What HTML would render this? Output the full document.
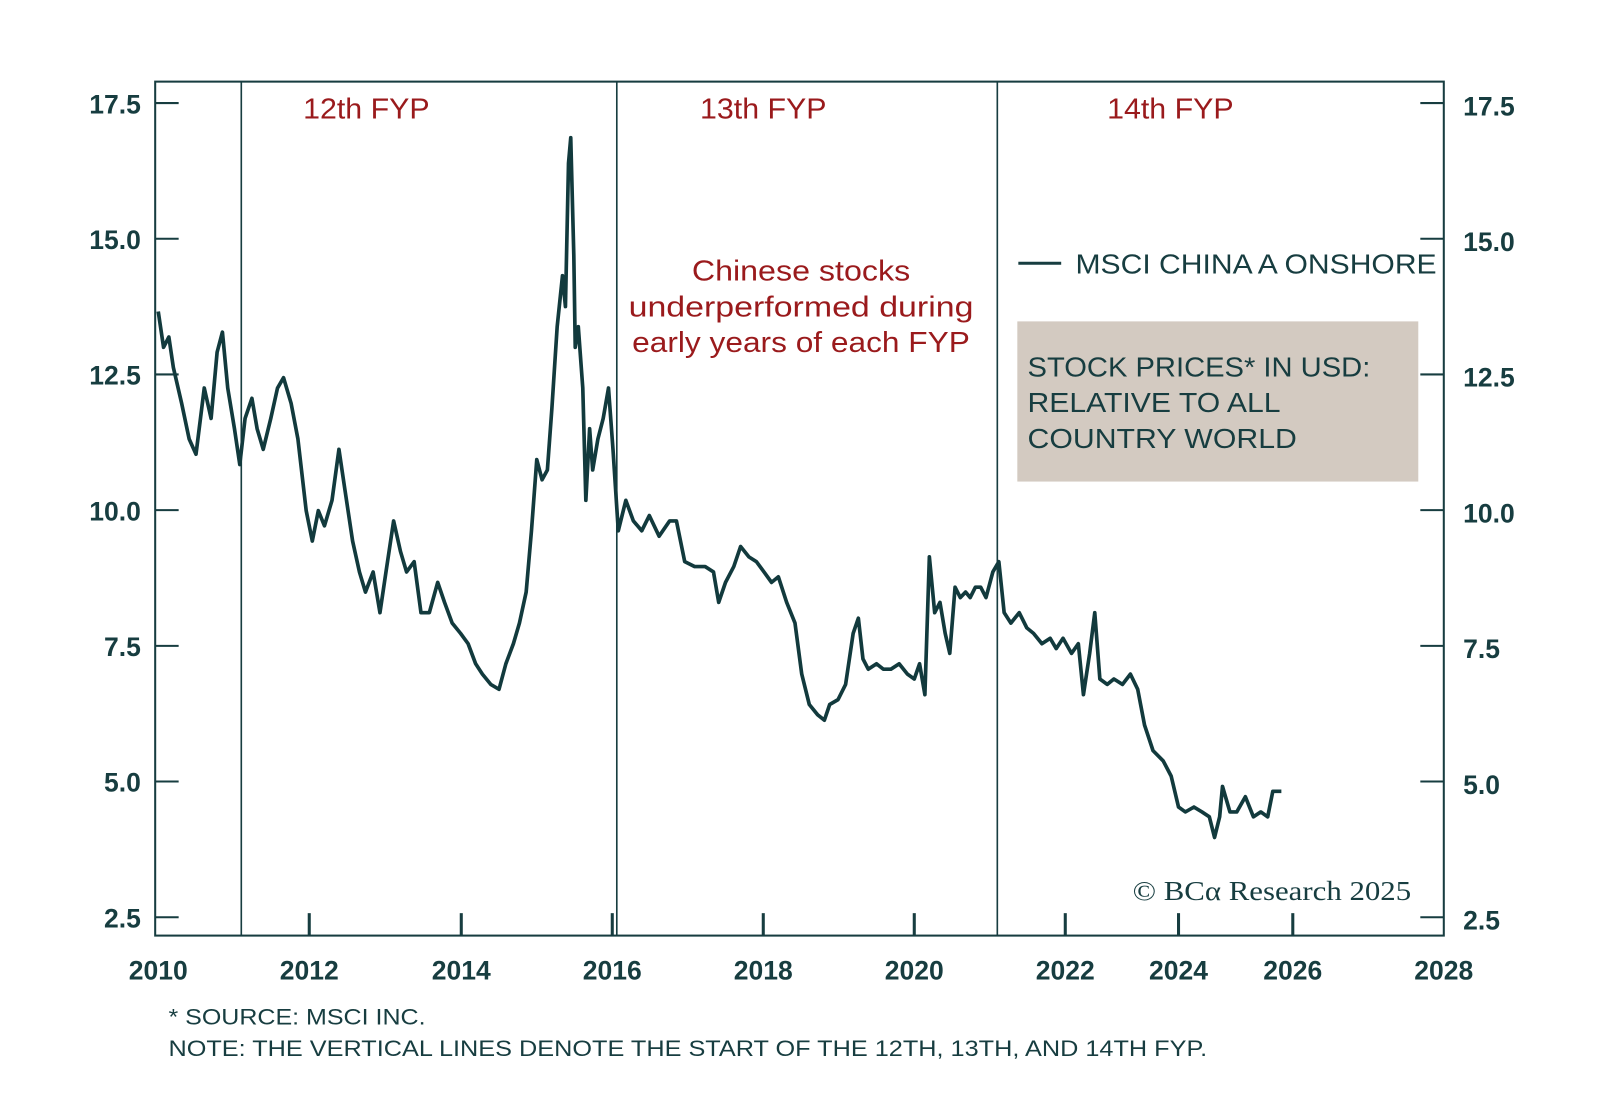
<!DOCTYPE html>
<html><head><meta charset="utf-8"><style>
html,body{margin:0;padding:0;background:#fff;}
svg{display:block;}
</style></head><body>
<svg id="chart" width="1600" height="1107" viewBox="0 0 1568 1085" xmlns="http://www.w3.org/2000/svg" font-family="'Liberation Sans', sans-serif"></svg>
<script>
const years = [2010.00,2010.07,2010.14,2010.20,2010.31,2010.41,2010.50,2010.61,2010.70,2010.78,2010.85,2010.92,2011.01,2011.08,2011.15,2011.24,2011.31,2011.39,2011.49,2011.58,2011.66,2011.76,2011.85,2011.96,2012.04,2012.12,2012.20,2012.30,2012.39,2012.47,2012.57,2012.66,2012.74,2012.84,2012.93,2013.01,2013.11,2013.20,2013.28,2013.38,2013.47,2013.58,2013.69,2013.78,2013.88,2013.99,2014.09,2014.19,2014.28,2014.39,2014.50,2014.59,2014.69,2014.77,2014.86,2014.93,2015.00,2015.07,2015.14,2015.20,2015.27,2015.34,2015.38,2015.42,2015.45,2015.49,2015.51,2015.55,2015.61,2015.65,2015.70,2015.74,2015.81,2015.88,2015.95,2016.01,2016.08,2016.18,2016.28,2016.39,2016.49,2016.62,2016.76,2016.85,2016.96,2017.09,2017.23,2017.34,2017.41,2017.50,2017.61,2017.70,2017.81,2017.91,2018.01,2018.11,2018.20,2018.31,2018.42,2018.51,2018.61,2018.72,2018.81,2018.88,2018.99,2019.09,2019.19,2019.26,2019.32,2019.39,2019.50,2019.59,2019.69,2019.80,2019.91,2020.00,2020.07,2020.14,2020.20,2020.27,2020.34,2020.41,2020.47,2020.54,2020.61,2020.68,2020.74,2020.81,2020.88,2020.95,2021.04,2021.12,2021.19,2021.28,2021.39,2021.49,2021.58,2021.69,2021.80,2021.88,2021.97,2022.11,2022.23,2022.32,2022.43,2022.52,2022.61,2022.74,2022.86,2023.01,2023.15,2023.28,2023.40,2023.55,2023.73,2023.87,2024.00,2024.12,2024.27,2024.41,2024.54,2024.63,2024.72,2024.77,2024.90,2025.02,2025.17,2025.31,2025.44,2025.56,2025.65,2025.80];
const values = [13.66,13.00,13.19,12.63,11.97,11.31,11.03,12.25,11.69,12.91,13.28,12.25,11.50,10.84,11.69,12.06,11.50,11.12,11.69,12.25,12.44,11.97,11.31,9.99,9.43,9.99,9.71,10.18,11.12,10.37,9.43,8.86,8.49,8.86,8.11,8.86,9.80,9.24,8.86,9.05,8.11,8.11,8.67,8.30,7.92,7.73,7.54,7.17,6.98,6.79,6.70,7.17,7.54,7.92,8.49,9.62,10.93,10.56,10.74,11.87,13.38,14.32,13.75,16.39,16.86,14.70,13.00,13.38,12.25,10.18,11.50,10.74,11.31,11.69,12.25,11.12,9.62,10.18,9.80,9.62,9.90,9.52,9.80,9.80,9.05,8.96,8.96,8.86,8.30,8.67,8.96,9.33,9.14,9.05,8.86,8.67,8.77,8.30,7.92,6.98,6.42,6.23,6.13,6.42,6.51,6.79,7.73,8.01,7.26,7.07,7.17,7.07,7.07,7.17,6.98,6.89,7.17,6.60,9.14,8.11,8.30,7.73,7.36,8.58,8.39,8.49,8.39,8.58,8.58,8.39,8.86,9.05,8.11,7.92,8.11,7.83,7.73,7.54,7.64,7.45,7.64,7.36,7.54,6.60,7.36,8.11,6.89,6.79,6.89,6.79,6.98,6.70,6.04,5.57,5.38,5.10,4.53,4.44,4.53,4.44,4.35,3.97,4.35,4.91,4.44,4.44,4.72,4.35,4.44,4.35,4.82,4.82];
const xTickYears = [2010,2012,2014,2016,2018,2020,2022,2024,2026,2028];
const xTickLabels = ["2010","2012","2014","2016","2018","2020","2022","2024","2026","2028"];
const yTicks = [2.5,5.0,7.5,10.0,12.5,15.0,17.5];
const yTickLabels = ["2.5","5.0","7.5","10.0","12.5","15.0","17.5"];
const fypStarts = [2011.1,2016.06,2021.1];
const fypLabels = ["12th FYP","13th FYP","14th FYP"];
const fypLabelYears = [2011.92,2017.15,2022.73];

const NS="http://www.w3.org/2000/svg";
const svg=document.getElementById('chart');
const tickPx=[155,303,452,600,748,896,1044,1155,1267,1415];
const L=152,R=1415,T=80,B=917;
const C="#173d40", RED="#9a1a1c";
function xS(yr){
  for(let i=0;i<xTickYears.length-1;i++){
    if(yr<=xTickYears[i+1]||i===xTickYears.length-2){
      const a=xTickYears[i],b=xTickYears[i+1];
      return tickPx[i]+(yr-a)/(b-a)*(tickPx[i+1]-tickPx[i]);
    }
  }
}
function yS(v){return 101+(17.5-v)*(133/2.5);}
function mk(tag,attrs,parent){const e=document.createElementNS(NS,tag);for(const k in attrs)e.setAttribute(k,attrs[k]);(parent||svg).appendChild(e);return e;}
function txt(s,attrs){const e=mk('text',attrs);e.textContent=s;return e;}

let e;
e=mk('rect',{x:L,y:T,width:R-L,height:B-T,fill:'none',stroke:C,'stroke-width':2});



yTicks.forEach((v,i)=>{
  const y=yS(v);
  e=mk('line',{x1:L,x2:L+23,y1:y,y2:y,stroke:C,'stroke-width':2});
  
  
  e=mk('line',{x1:R-23,x2:R,y1:y,y2:y,stroke:C,'stroke-width':2});
  
  
  e=txt(yTickLabels[i],{x:138,y:y+10,'text-anchor':'end','font-size':26,'font-weight':'bold',fill:C});
  
  
  e=txt(yTickLabels[i],{x:1434,y:y+12,'font-size':26,'font-weight':'bold',fill:C});
  
  
});
xTickYears.forEach((yr,i)=>{
  const x=xS(yr);
  if(i>0&&i<xTickYears.length-1){
    e=mk('line',{x1:x,x2:x,y1:B,y2:B-22,stroke:C,'stroke-width':3});
    
    
  }
  e=txt(xTickLabels[i],{x:x,y:960,'text-anchor':'middle','font-size':26,'font-weight':'bold',fill:C});
  
  
});
fypStarts.forEach((yr,i)=>{
  const x=xS(yr);
  e=mk('line',{x1:x,x2:x,y1:T,y2:B,stroke:C,'stroke-width':1.6});
  
  
});
const fypLabelPx=[297,686,1085];
fypLabels.forEach((s,i)=>{
  e=txt(s,{x:fypLabelPx[i],y:116,'font-size':28,fill:RED,textLength:124,lengthAdjust:'spacingAndGlyphs'});
  
  
});

let d='';
years.forEach((yr,i)=>{d+=(i?'L':'M')+xS(yr).toFixed(1)+','+yS(values[i]).toFixed(1);});
e=mk('path',{d:d,fill:'none',stroke:'#123a3d','stroke-width':3.6,'stroke-linejoin':'round'});



[["Chinese stocks",214],["underperformed during",338],["early years of each FYP",331]].forEach((p,i)=>{
  e=txt(p[0],{x:785,y:275+i*35,'text-anchor':'middle','font-size':28,fill:RED,textLength:p[1],lengthAdjust:'spacingAndGlyphs'});
  
  
});

e=mk('line',{x1:998,x2:1040,y1:258,y2:258,stroke:C,'stroke-width':3});


e=txt("MSCI CHINA A ONSHORE",{x:1054,y:268,'font-size':27,fill:C,textLength:354,lengthAdjust:'spacingAndGlyphs'});



e=mk('rect',{x:997,y:315,width:393,height:157,fill:'#d3cac1'});


[["STOCK PRICES* IN USD:",336],["RELATIVE TO ALL",248],["COUNTRY WORLD",264]].forEach((p,i)=>{
  e=txt(p[0],{x:1007,y:369+i*35,'font-size':27,fill:C,textLength:p[1],lengthAdjust:'spacingAndGlyphs'});
  
  
});

e=txt("© BCα Research 2025",{x:1110,y:882,'font-size':27,fill:C,'font-family':"'Liberation Serif', serif",textLength:273,lengthAdjust:'spacingAndGlyphs'});



e=txt("* SOURCE: MSCI INC.",{x:165,y:1004,'font-size':22,fill:C,textLength:252,lengthAdjust:'spacingAndGlyphs'});


e=txt("NOTE: THE VERTICAL LINES DENOTE THE START OF THE 12TH, 13TH, AND 14TH FYP.",{x:165,y:1035,'font-size':22,fill:C,textLength:1018,lengthAdjust:'spacingAndGlyphs'});


</script>
</body></html>
